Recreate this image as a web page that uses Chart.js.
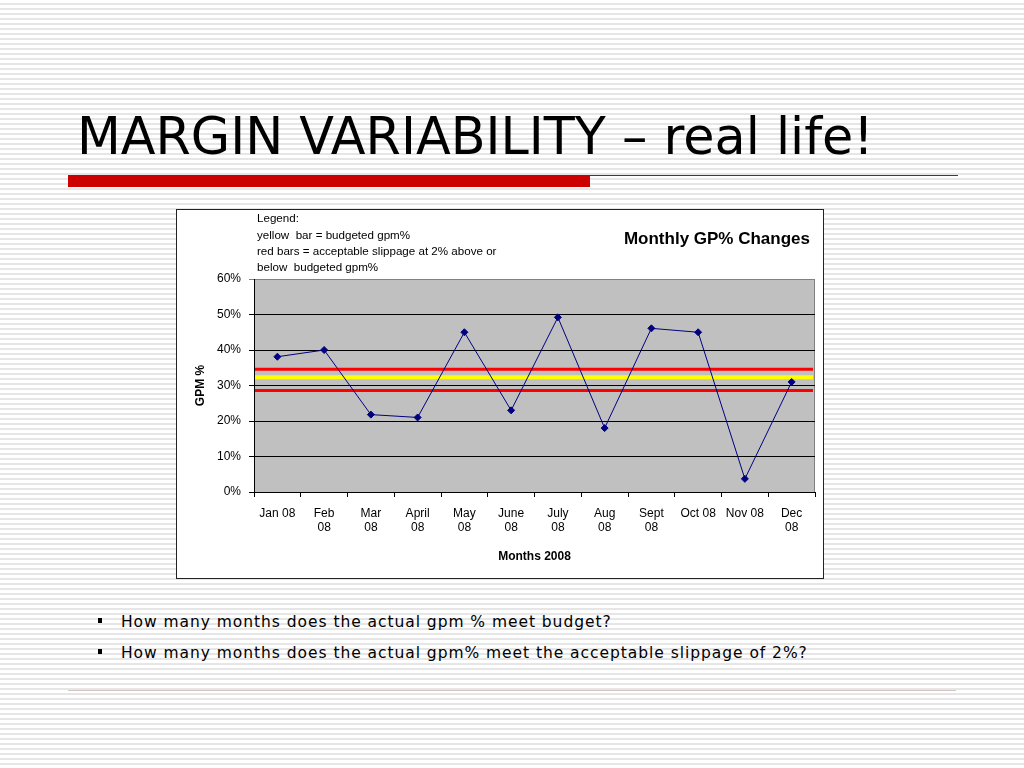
<!DOCTYPE html>
<html>
<head>
<meta charset="utf-8">
<script src="https://cdn.jsdelivr.net/npm/chart.js@4"></script>
<style>
  body { margin: 0; }
  #slide {
    position: relative; width: 1024px; height: 768px; overflow: hidden;
    background: repeating-linear-gradient(to bottom, #ffffff 0px, #ffffff 3px, #e6e6e6 3px, #e6e6e6 5px);
    font-family: "DejaVu Sans", Verdana, sans-serif;
  }
  #title { position: absolute; left: 77px; top: 107px; font-size: 50.8px; color: #000; white-space: nowrap; }
  #redbar { position: absolute; left: 68px; top: 175px; width: 522px; height: 12px; background: #cc0000; }
  #redline { position: absolute; left: 590px; top: 175px; width: 368px; height: 1px; background: #cc0000; }
  #box { position: absolute; left: 176px; top: 209px; width: 646px; height: 368px; border: 1px solid #222; background: #fff; }
  .bullet { position: absolute; left: 98px; font-size: 15.5px; letter-spacing: 0.95px; color: #000; white-space: nowrap; }
  .bullet span { display: inline-block; width: 4px; height: 5px; background: #000; margin-right: 19px; vertical-align: middle; position: relative; top: -2px; }
  #bottomline { position: absolute; left: 68px; top: 690px; width: 888px; height: 1px; background: #d4c4c4; }
</style>
</head>
<body>
<div id="slide">
  <div id="title">MARGIN VARIABILITY – real life!</div>
  <div id="redbar"></div>
  <div id="redline"></div>
  <div id="box"><canvas id="chart"></canvas></div>
  <div class="bullet" style="top:613px"><span></span>How many months does the actual gpm % meet budget?</div>
  <div class="bullet" style="top:644px"><span></span>How many months does the actual gpm% meet the acceptable slippage of 2%?</div>
  <div id="bottomline"></div>
</div>
<script>
// chart values
const months = ['Jan 08', ['Feb', '08'], ['Mar', '08'], ['April', '08'], ['May', '08'], ['June', '08'],
  ['July', '08'], ['Aug', '08'], ['Sept', '08'], 'Oct 08', 'Nov 08', ['Dec', '08']];
const gpm = [38.1, 40, 21.8, 21, 45, 23, 49.2, 18, 46.1, 45, 3.7, 31];
const budget = 32.3;
const slippageUpper = 34.6;
const slippageLower = 28.6;
const yTicks = [0, 10, 20, 30, 40, 50, 60];
const noteLines = ['Legend:', 'yellow  bar = budgeted gpm%', 'red bars = acceptable slippage at 2% above or', 'below  budgeted gpm%'];

const arial = 'Liberation Sans, Arial, sans-serif';
Chart.defaults.font.family = arial;
Chart.defaults.color = '#000';

// grey plot fill, drawn before the grid
const plotBack = {
  id: 'plotBack',
  beforeDraw(chart) {
    const {ctx, chartArea: a} = chart;
    ctx.save();
    ctx.fillStyle = '#c0c0c0';
    ctx.fillRect(a.left, a.top, a.right - a.left, a.bottom - a.top);
    ctx.strokeStyle = '#808080';
    ctx.lineWidth = 1;
    ctx.strokeRect(a.left + 0.5, a.top + 0.5, a.right - a.left - 1, a.bottom - a.top);
    ctx.restore();
  }
};

// budget and slippage bars across the full plot width
const budgetBars = {
  id: 'budgetBars',
  beforeDatasetsDraw(chart) {
    const {ctx, chartArea: a, scales: {y}} = chart;
    const bars = [[slippageUpper, '#ff0000', 3], [slippageLower, '#ff0000', 3], [budget, '#ffff00', 4]];
    ctx.save();
    bars.forEach(([v, c, w]) => {
      const py = y.getPixelForValue(v);
      ctx.strokeStyle = c;
      ctx.lineWidth = w;
      ctx.beginPath();
      ctx.moveTo(a.left + 1, py);
      ctx.lineTo(a.right - 2, py);
      ctx.stroke();
    });
    ctx.restore();
  }
};

// note text and heading above the plot
const notes = {
  id: 'notes',
  afterDraw(chart) {
    const ctx = chart.ctx;
    ctx.save();
    ctx.fillStyle = '#000';
    ctx.textBaseline = 'middle';
    ctx.font = '11.6px ' + arial;
    noteLines.forEach((t, i) => ctx.fillText(t, 80, 9 + i * 16.3));
    ctx.font = 'bold 17px ' + arial;
    ctx.textAlign = 'right';
    ctx.fillText('Monthly GP% Changes', 633, 29);
    ctx.restore();
  }
};

new Chart(document.getElementById('chart'), {
  type: 'line',
  data: {
    labels: months,
    datasets: [{
      data: gpm,
      borderColor: '#000080',
      backgroundColor: '#000080',
      borderWidth: 1,
      pointStyle: 'rectRot',
      pointRadius: 3.5,
      tension: 0
    }]
  },
  options: {
    responsive: true,
    maintainAspectRatio: false,
    animation: false,
    layout: { padding: { top: 69, right: 8, left: 0, bottom: 0 } },
    plugins: { legend: { display: false }, tooltip: { enabled: false } },
    scales: {
      x: {
        offset: true,
        afterFit: s => { s.height = 86; },
        grid: { offset: true, drawOnChartArea: false, tickLength: 5, color: '#000' },
        border: { color: '#000' },
        ticks: { font: { size: 12 }, padding: 9, maxRotation: 0, autoSkip: false },
        title: { display: true, text: 'Months 2008', font: { size: 12, weight: 'bold' }, padding: { top: 0, bottom: 14 } }
      },
      y: {
        min: 0,
        max: 60,
        afterFit: s => { s.width = 77; },
        afterBuildTicks: s => { s.ticks = yTicks.map(v => ({ value: v })); },
        grid: {
          tickLength: 5,
          color: c => c.tick && c.tick.value === 60 ? '#808080' : '#000'
        },
        border: { color: '#000' },
        ticks: { font: { size: 12 }, padding: 8, callback: v => v + '%' },
        title: { display: true, text: 'GPM %', font: { size: 12, weight: 'bold' }, padding: { top: 16, bottom: 0 } }
      }
    }
  },
  plugins: [plotBack, budgetBars, notes]
});
</script>
</body>
</html>
